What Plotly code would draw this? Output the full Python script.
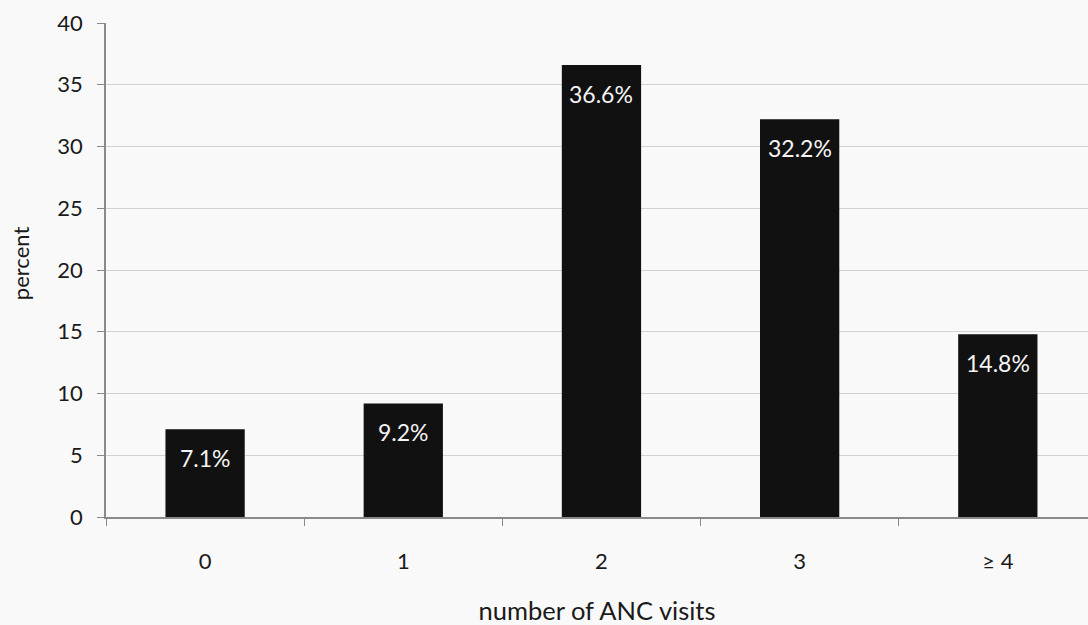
import plotly.graph_objects as go

# Distribution of antenatal care visits
visits = ["0", "1", "2", "3", "≥ 4"]
percent = [7.1, 9.2, 36.6, 32.2, 14.8]
value_labels = ["7.1%", "9.2%", "36.6%", "32.2%", "14.8%"]
y_ticks = [0, 5, 10, 15, 20, 25, 30, 35, 40]

FONT = "Lato, Open Sans, sans-serif"

fig = go.Figure(
    go.Bar(
        x=visits,
        y=percent,
        width=0.4,
        marker=dict(color="#111111", line=dict(width=0)),
        showlegend=False,
        hoverinfo="skip",
    )
)

# Value labels sit inside each bar, a little below its top
for cat, val, lab in zip(visits, percent, value_labels):
    fig.add_annotation(
        x=cat, y=val, text=lab, showarrow=False,
        yshift=-29, font=dict(family=FONT, size=23, color="#f4f4f4"),
    )

# Vertical axis title, placed slightly above the plot's middle
fig.add_annotation(
    text="percent", textangle=-90, showarrow=False,
    xref="paper", yref="paper", x=-0.0875, y=0.514,
    xanchor="center", yanchor="middle",
    font=dict(family=FONT, size=22, color="#1a1a1a"),
)

fig.update_layout(
    width=1088, height=625,
    margin=dict(l=106, r=0, t=23, b=108),
    paper_bgcolor="#f9f9f9",
    plot_bgcolor="#f9f9f9",
    font=dict(family=FONT, size=22, color="#1a1a1a"),
    bargap=0.6,
)

fig.update_xaxes(
    type="category",
    range=[-0.5, 4.455],
    showgrid=False,
    showline=True, linecolor="#8a8a8a", linewidth=1.5,
    ticks="outside", ticklen=7, tickcolor="#8a8a8a",
    tickson="boundaries",
    ticklabelstandoff=24,
    tickfont=dict(size=22),
    title=dict(text="number of ANC visits", font=dict(size=25.5), standoff=29),
)

fig.update_yaxes(
    range=[0, 40],
    tickvals=y_ticks,
    showgrid=True, gridcolor="#d2d2d2", gridwidth=1,
    zeroline=False,
    showline=True, linecolor="#8a8a8a", linewidth=1.5,
    ticks="outside", ticklen=7, tickcolor="#8a8a8a",
    ticklabelstandoff=10,
    tickfont=dict(size=22),
)

fig.write_html("out.html")
